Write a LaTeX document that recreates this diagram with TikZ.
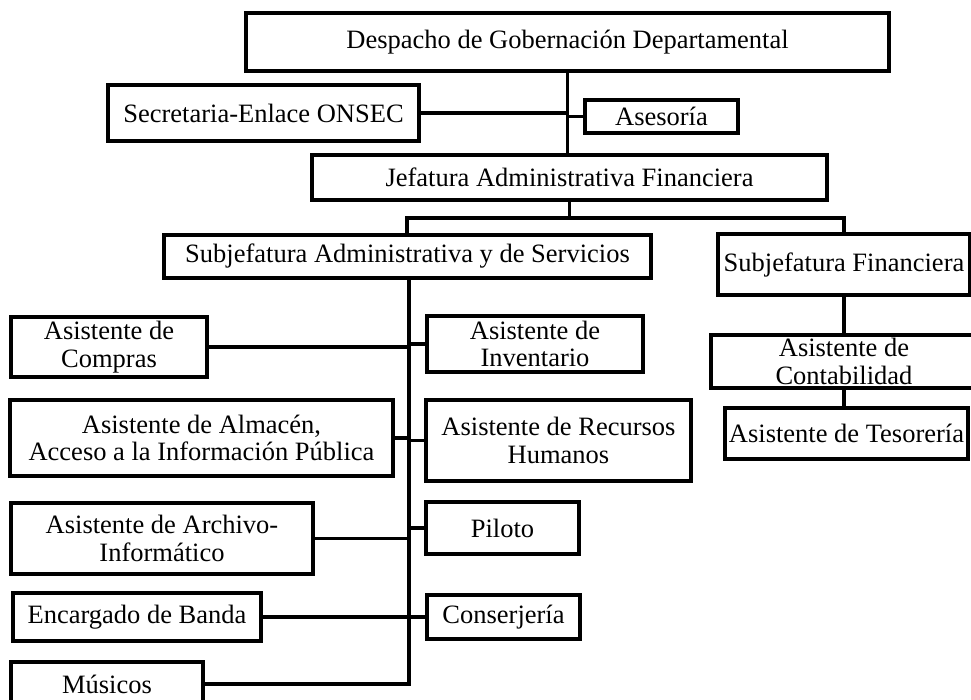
\documentclass[tikz,border=0pt]{standalone}
\usepackage{fontspec}
\setmainfont{Liberation Serif}
\begin{document}
\begin{tikzpicture}[x=1pt,y=-1pt,
  box/.style={draw, line width=3.2pt, inner sep=0pt, align=center,
    font=\fontsize{26.5}{27.5}\selectfont},
  conn/.style={line width=3.2pt, line cap=rect}]
\useasboundingbox (0,0) rectangle (971,700);
% boxes
\node[box, minimum width=643pt, minimum height=58pt] (desp) at (567.5,42) {Despacho de Gobernación Departamental};
\node[box, minimum width=311pt, minimum height=56pt] (sec) at (263.5,113) {Secretaria-Enlace ONSEC};
\node[box, minimum width=153pt, minimum height=33pt] (ases) at (661.5,116.5) {Asesoría};
\node[box, minimum width=515pt, minimum height=45pt] (jef) at (569.5,177.5) {Jefatura Administrativa Financiera};
\node[box, minimum width=487pt, minimum height=43pt] (subadm) at (407.5,256.5) {Subjefatura Administrativa y de Servicios};
\node[box, minimum width=252pt, minimum height=61pt] (subfin) at (844,264.5) {Subjefatura Financiera};
\node[box, minimum width=266pt, minimum height=53pt] (cont) at (844,361.5) {Asistente de\\Contabilidad};
\node[box, minimum width=243pt, minimum height=51pt] (tes) at (846.5,433.5) {Asistente de Tesorería};
\node[box, minimum width=196pt, minimum height=60pt] (compras) at (109,347) {Asistente de\\Compras};
\node[box, minimum width=216pt, minimum height=56pt] (inv) at (535,344) {Asistente de\\Inventario};
\node[box, minimum width=383pt, minimum height=76pt] (alm) at (201.5,438) {Asistente de Almacén,\\Acceso a la Información Pública};
\node[box, minimum width=265pt, minimum height=81pt] (rh) at (558.5,440.5) {Asistente de Recursos\\Humanos};
\node[box, minimum width=302pt, minimum height=71pt] (arch) at (162,538.5) {Asistente de Archivo-\\Informático};
\node[box, minimum width=153pt, minimum height=52pt] (pil) at (502.5,528) {Piloto};
\node[box, minimum width=248pt, minimum height=48pt] (banda) at (137,617) {Encargado de Banda};
\node[box, minimum width=153pt, minimum height=44pt] (conse) at (503.5,617) {Conserjería};
\node[box, minimum width=192pt, minimum height=44pt] (mus) at (107,684) {Músicos};
% helper coordinates
\coordinate (bl) at (407,218);
\coordinate (brr) at (844,218);
\coordinate (tr) at (409,684);
% connectors
\draw[conn] (desp.south) -- (desp.south |- jef.north);
\draw[conn] (sec.east) -- (sec.east -| desp.south);
\draw[conn] (ases.west) -- (ases.west -| desp.south);
\draw[conn] (jef.south) -- (jef.south |- bl);
\draw[conn] (bl |- subadm.north) -- (bl) -- (brr) -- (brr |- subfin.north);
\draw[conn] (subfin.south) -- (cont.north);
\draw[conn] (cont.south) -- (cont.south |- tes.north);
\draw[conn] (tr |- subadm.south) -- (tr);
\draw[conn] (compras.east) -- (compras.east -| tr);
\draw[conn] (inv.west) -- (inv.west -| tr);
\draw[conn] (alm.east) -- (alm.east -| tr);
\draw[conn] (rh.west) -- (rh.west -| tr);
\draw[conn] (arch.east) -- (arch.east -| tr);
\draw[conn] (pil.west) -- (pil.west -| tr);
\draw[conn] (banda.east) -- (conse.west);
\draw[conn] (mus.east) -- (tr);
\end{tikzpicture}
\end{document}
